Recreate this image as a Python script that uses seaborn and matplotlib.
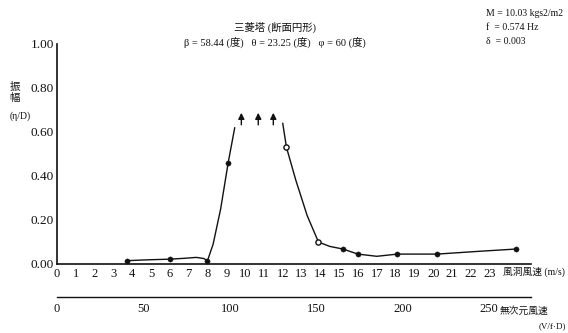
import matplotlib
matplotlib.use("Agg")
import matplotlib.pyplot as plt
import seaborn as sns
import pandas as pd
import numpy as np

# ---- data ----
# curve traced through the measurements (wind speed m/s, amplitude eta/D)
left_speed = [3.7, 4.5, 5.2, 6.0, 6.8, 7.4, 7.8, 8.0, 8.3, 8.7, 9.1, 9.45]
left_amp = [0.015, 0.018, 0.02, 0.022, 0.026, 0.03, 0.025, 0.015, 0.09, 0.25, 0.46, 0.62]
right_speed = [12.0, 12.2, 12.7, 13.3, 13.9, 14.5, 15.2, 16.0, 17.0, 18.1, 20.2, 22.5, 24.4]
right_amp = [0.64, 0.53, 0.38, 0.22, 0.10, 0.08, 0.068, 0.045, 0.035, 0.045, 0.045, 0.058, 0.068]
# measured points
filled_speed = [3.7, 6.0, 8.0, 9.1, 15.2, 16.0, 18.1, 20.2, 24.4]
filled_amp = [0.015, 0.022, 0.015, 0.46, 0.068, 0.045, 0.045, 0.045, 0.068]
open_speed = [12.2, 13.9]
open_amp = [0.53, 0.10]
# divergent amplitude arrows
arrow_speed = [9.8, 10.7, 11.5]
arrow_from = [0.62, 0.62, 0.62]
arrow_to = [0.70, 0.70, 0.70]

y_ticks = [0.0, 0.2, 0.4, 0.6, 0.8, 1.0]
y_labels = ["0.00", "0.20", "0.40", "0.60", "0.80", "1.00"]
x_ticks = list(range(0, 26))
x_labels = [str(i) for i in range(0, 24)] + ["", ""]
red_ticks = [0, 50, 100, 150, 200, 250]
red_labels = ["0", "50", "100", "150", "200", "250"]

title1 = "三菱塔 (断面円形)"
title2 = "β = 58.44 (度)   θ = 23.25 (度)   φ = 60 (度)"
params = ["M = 10.03 kgs2/m2", "f  = 0.574 Hz", "δ  = 0.003"]
ylab_chars = ["振", "幅"]
yunit_text = "(η/D)"
xlab_text = "風洞風速 (m/s)"
x2lab_text = "無次元風速"
x2unit_text = "(V/f·D)"

# ---- styling ----
sns.set_theme(style="white")
fam = ["Liberation Serif", "Noto Sans CJK JP", "DejaVu Sans"]
plt.rcParams["font.family"] = fam
plt.rcParams["axes.unicode_minus"] = False
ink = "#111111"

W, H = 568, 333
fig = plt.figure(figsize=(W / 100, H / 100), dpi=100)
ax_l, ax_r = 57, 531
ax_t, ax_b = 44, 264
ax = fig.add_axes([ax_l / W, 1 - ax_b / H, (ax_r - ax_l) / W, (ax_b - ax_t) / H])
ax.set_facecolor("none")

left_df = pd.DataFrame({"u": left_speed, "a": left_amp})
right_df = pd.DataFrame({"u": right_speed, "a": right_amp})
sns.lineplot(data=left_df, x="u", y="a", ax=ax, color=ink, lw=1.0, sort=False, estimator=None)
sns.lineplot(data=right_df, x="u", y="a", ax=ax, color=ink, lw=1.0, sort=False, estimator=None)
sns.scatterplot(x=filled_speed, y=filled_amp, ax=ax, color=ink, s=14, edgecolor=ink, zorder=5)
sns.scatterplot(x=open_speed, y=open_amp, ax=ax, facecolor="white", edgecolor=ink, s=14, linewidth=1.0, zorder=5)
for u, a0, a1 in zip(arrow_speed, arrow_from, arrow_to):
    ax.annotate("", xy=(u, a1), xytext=(u, a0),
                arrowprops=dict(arrowstyle="-|>", color=ink, lw=1.0, mutation_scale=9))

ax.set_xlim(0, 25.2)
ax.set_ylim(0, 1.0)
ax.set_xticks(x_ticks)
ax.set_xticklabels(x_labels)
ax.set_yticks(y_ticks)
ax.set_yticklabels(y_labels)
ax.set_xlabel("")
ax.set_ylabel("")
for s in ["top", "right"]:
    ax.spines[s].set_visible(False)
for s in ["left", "bottom"]:
    ax.spines[s].set_color(ink)
    ax.spines[s].set_linewidth(1.2)
ax.tick_params(axis="both", direction="in", length=4, width=1, colors=ink, labelsize=9, pad=2)
ax.tick_params(axis="y", labelsize=9.5)
ax.tick_params(axis="x", pad=3)

# reduced velocity axis
ax2 = fig.add_axes([ax_l / W, 1 - 297 / H, (ax_r - ax_l) / W, 0.001])
ax2.set_facecolor("none")
ax2.set_xlim(0, (ax_r - ax_l) / 1.728)
ax2.set_yticks([])
for s in ["top", "right", "left"]:
    ax2.spines[s].set_visible(False)
ax2.spines["bottom"].set_color(ink)
ax2.spines["bottom"].set_linewidth(1.0)
ax2.set_xticks(red_ticks)
ax2.set_xticklabels(red_labels)
ax2.tick_params(axis="x", direction="in", length=5, width=1, colors=ink, labelsize=9, pad=4)

# texts
fig.text(275 / W, 1 - 27 / H, title1, ha="center", va="center", fontsize=7.5, color=ink)
fig.text(275 / W, 1 - 42 / H, title2, ha="center", va="center", fontsize=7.5, color=ink)
for i, t in enumerate(params):
    fig.text(486 / W, 1 - (14 + 14 * i) / H, t, ha="left", va="center", fontsize=7, color=ink)
for i, c in enumerate(ylab_chars):
    fig.text(15 / W, 1 - (87 + 11 * i) / H, c, ha="center", va="center", fontsize=7.5, color=ink)
fig.text(20 / W, 1 - 116 / H, yunit_text, ha="center", va="center", fontsize=7, color=ink)
fig.text(503 / W, 1 - 272 / H, xlab_text, ha="left", va="center", fontsize=7, color=ink)
fig.text(500 / W, 1 - 311 / H, x2lab_text, ha="left", va="center", fontsize=7, color=ink)
fig.text(566 / W, 1 - 326 / H, x2unit_text, ha="right", va="center", fontsize=6.5, color=ink)

fig.savefig("out.png", dpi=100, facecolor="white")
